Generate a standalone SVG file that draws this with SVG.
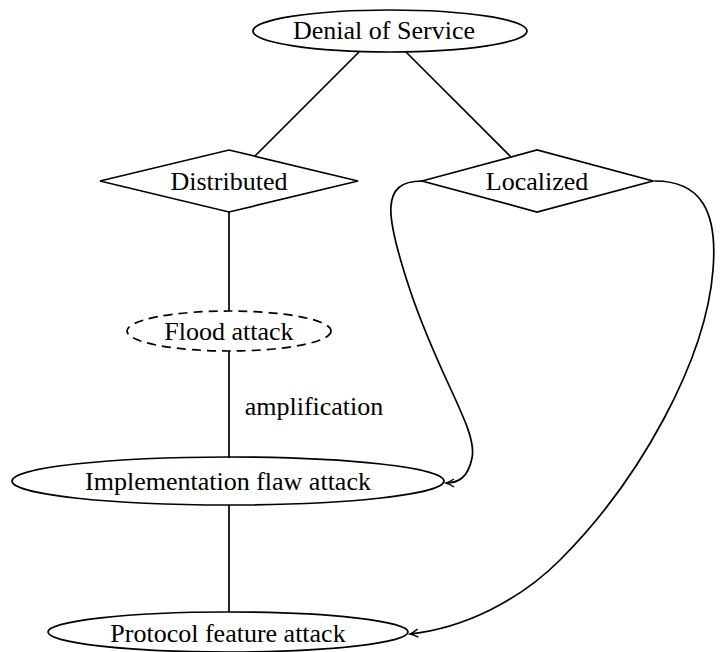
<svg xmlns="http://www.w3.org/2000/svg" width="724" height="652" viewBox="0 0 724 652">
<style>
.n{fill:none;stroke:#000;stroke-width:1.7}
.d{stroke-dasharray:9 6}
.t{font-family:"Liberation Serif","Times New Roman",serif;font-size:26px;fill:#000;text-anchor:middle}
.e{fill:none;stroke:#000;stroke-width:1.7}
</style>
<defs>
<marker id="arr" viewBox="-10 -6 12 12" refX="0" refY="0" markerWidth="12" markerHeight="12" markerUnits="userSpaceOnUse" orient="auto">
<path d="M-8,-4 Q-3,-0.8 0,0 Q-3,0.8 -8,4" fill="none" stroke="#000" stroke-width="1.4"/>
</marker>
</defs>
<rect width="724" height="652" fill="#fff"/>
<g id="connectors">
<line class="e" x1="359" y1="52" x2="255" y2="156"/>
<line class="e" x1="406" y1="52" x2="511" y2="157"/>
<line class="e" x1="229" y1="212" x2="229" y2="311"/>
<line class="e" x1="229" y1="351" x2="229" y2="458"/>
<line class="e" x1="229" y1="505" x2="229" y2="612"/>
<path class="e" d="M422,181 C380,181 385,215 410,290 C440,380 478,430 472,458 C468,478 458,483 446,483" marker-end="url(#arr)"/>
<path class="e" d="M655,181 C700,181 718,210 713,270 C706,360 640,480 560,560 C520,600 465,628 410,634" marker-end="url(#arr)"/>
<text class="t" x="314" y="415">amplification</text>
</g>
<g id="dos"><ellipse class="n" cx="390" cy="31" rx="137" ry="21"/><text class="t" x="384" y="39">Denial of Service</text></g>
<g id="distributed"><polygon class="n" points="100,181 229,150 358,181 229,212"/><text class="t" x="229" y="190">Distributed</text></g>
<g id="localized"><polygon class="n" points="422,181 537,150 653,181 537,212"/><text class="t" x="537" y="190">Localized</text></g>
<g id="flood"><ellipse class="n d" cx="229" cy="331" rx="102" ry="20"/><text class="t" x="229" y="340">Flood attack</text></g>
<g id="impl"><ellipse class="n" cx="228" cy="481" rx="216" ry="24"/><text class="t" x="228" y="490">Implementation flaw attack</text></g>
<g id="protocol"><ellipse class="n" cx="228" cy="632" rx="180" ry="20"/><text class="t" x="228" y="642">Protocol feature attack</text></g>
</svg>
